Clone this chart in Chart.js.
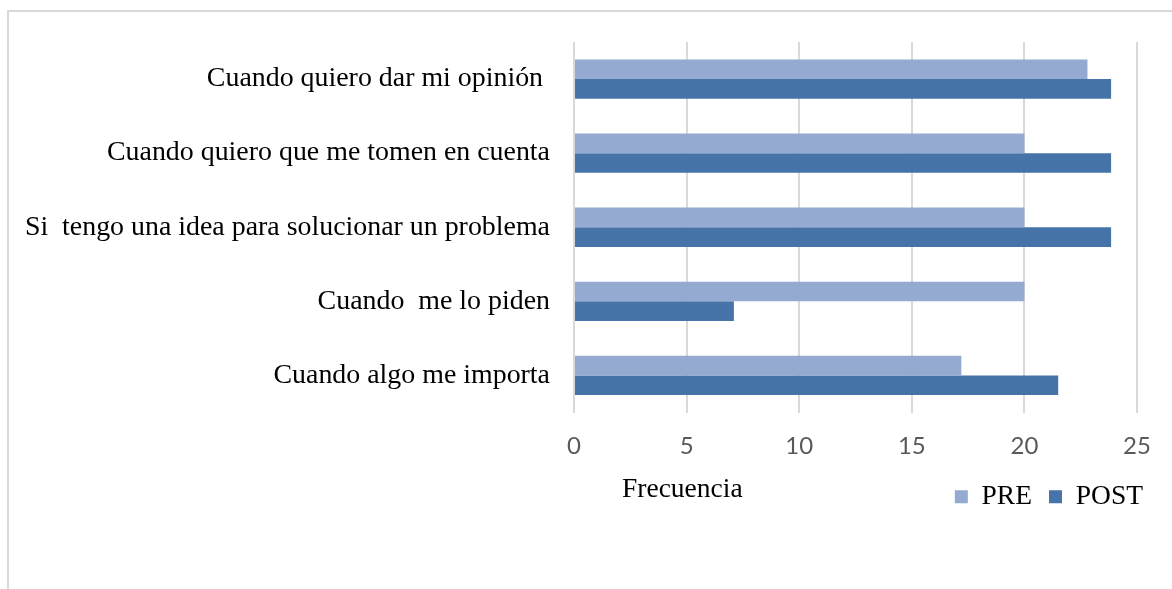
<!DOCTYPE html>
<html>
<head>
<meta charset="utf-8">
<script src="https://cdn.jsdelivr.net/npm/chart.js@4.4.0/dist/chart.umd.min.js"></script>
<style>
    html, body { margin: 0; padding: 0; background: #fff; }
    #marco {
        position: absolute; left: 7px; top: 10px; width: 1170px; height: 590px;
        border-left: 2px solid #d9d9d9; border-top: 2px solid #d9d9d9;
    }
    #myChart { position: absolute; left: 0; top: 0; }
</style>
</head>
<body>
<div id="marco"></div>
<canvas id="myChart" width="1172" height="589"></canvas>
<script>
// Datos
var categorias = [
    'Cuando quiero dar mi opinión ',
    'Cuando quiero que me tomen en cuenta',
    'Si  tengo una idea para solucionar un problema',
    'Cuando  me lo piden',
    'Cuando algo me importa'
];
var valoresPre = [22.8, 20, 20, 20, 17.2];
var valoresPost = [23.85, 23.85, 23.85, 7.1, 21.5];
var ejeMin = 0;
var ejeMax = 25;
var ejePaso = 5;
var tituloX = 'Frecuencia';

// Título del eje dibujado a mano (no está centrado en el original)
var tituloEje = {
    id: 'tituloEje',
    afterDraw: function (chart) {
        var ctx = chart.ctx;
        ctx.save();
        ctx.font = '27.5px "Liberation Serif"';
        ctx.fillStyle = '#000';
        ctx.textBaseline = 'alphabetic';
        ctx.textAlign = 'left';
        ctx.fillText(tituloX, chart.chartArea.left + 48, 497);
        ctx.restore();
    }
};

var ctx = document.getElementById('myChart').getContext('2d');
var myChart = new Chart(ctx, {
    type: 'bar',
    data: {
        labels: categorias,
        datasets: [{
            label: 'PRE',
            data: valoresPre,
            backgroundColor: '#95aad0',
            categoryPercentage: 0.53,
            barPercentage: 1.0
        }, {
            label: 'POST',
            data: valoresPost,
            backgroundColor: '#4673a8',
            categoryPercentage: 0.53,
            barPercentage: 1.0
        }]
    },
    options: {
        indexAxis: 'y',
        responsive: false,
        animation: false,
        layout: {
            padding: { top: 42, left: 0, right: 12, bottom: 68.5 }
        },
        plugins: {
            tooltip: { enabled: false },
            legend: {
                position: 'bottom',
                align: 'end',
                labels: {
                    boxWidth: 13,
                    boxHeight: 13,
                    padding: 17,
                    color: '#000',
                    font: { family: '"Liberation Serif"', size: 27.5 }
                }
            }
        },
        scales: {
            x: {
                min: ejeMin,
                max: ejeMax,
                ticks: {
                    stepSize: ejePaso,
                    padding: 19,
                    color: '#595959',
                    font: { family: 'Lato', size: 24 }
                },
                grid: {
                    color: '#d9d9d9',
                    lineWidth: 2,
                    drawTicks: false
                },
                border: { display: false },
                afterFit: function (scale) {
                    scale.height = 53.5;
                    scale.paddingRight = 35;
                }
            },
            y: {
                ticks: {
                    padding: 24,
                    color: '#000',
                    font: { family: '"Liberation Serif"', size: 27.9 }
                },
                grid: { display: false, drawTicks: false },
                border: { display: false },
                afterFit: function (scale) {
                    scale.width = 574;
                }
            }
        }
    },
    plugins: [tituloEje]
});
</script>
</body>
</html>
